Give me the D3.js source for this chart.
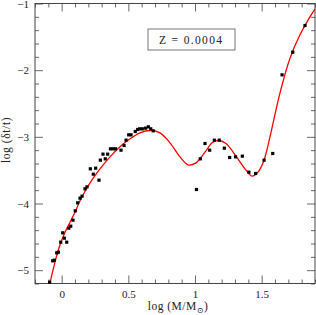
<!DOCTYPE html>
<html>
<head>
<meta charset="utf-8">
<script src="https://cdn.jsdelivr.net/npm/d3@7"></script>
<style>
  body { margin: 0; background: #fff; }
  svg { display: block; font-family: "Liberation Serif", "DejaVu Serif", serif; }
</style>
</head>
<body>
<svg id="chart" width="316" height="315"></svg>
<script>
// measured points: log M vs log (dt/t)
const pointX = [-0.09, -0.067, -0.055, -0.037, -0.025, -0.007, 0.008, 0.02, 0.038, 0.053, 0.068, 0.085,
    0.102, 0.12, 0.138, 0.153, 0.175, 0.19, 0.215, 0.237, 0.255, 0.28, 0.29, 0.31, 0.327, 0.345,
    0.366, 0.385, 0.404, 0.445, 0.468, 0.483, 0.503, 0.52, 0.552, 0.57, 0.585, 0.605, 0.63, 0.65,
    0.668, 0.687,
    1.011, 1.04, 1.075, 1.11, 1.145, 1.182, 1.22, 1.26, 1.304, 1.355, 1.404, 1.455, 1.518, 1.583,
    1.653, 1.733, 1.825];
const pointY = [-5.18, -4.86, -4.85, -4.74, -4.73, -4.58, -4.44, -4.52, -4.58, -4.37, -4.34, -4.25,
    -4.11, -3.99, -3.92, -3.89, -3.78, -3.75, -3.48, -3.56, -3.47, -3.65, -3.35, -3.26, -3.33, -3.26,
    -3.18, -3.18, -3.18, -3.2, -3.13, -3.05, -2.97, -2.97, -2.92, -2.89, -2.88, -2.88, -2.87, -2.85,
    -2.88, -2.91,
    -3.79, -3.33, -3.1, -3.2, -3.05, -3.05, -3.17, -3.31, -3.3, -3.29, -3.53, -3.55, -3.35, -3.25,
    -2.07, -1.73, -1.33];

// fitted curve
const curveX = [-0.0875, -0.05, -0.0125, 0.025, 0.0625, 0.1, 0.1375, 0.2125, 0.2875, 0.3625, 0.4375,
    0.5125, 0.5875, 0.6625, 0.7375, 0.8125, 0.8875, 0.9475, 1.0075, 1.075, 1.1275, 1.1725, 1.2325,
    1.3075, 1.3825, 1.4275, 1.4725, 1.5175, 1.5625, 1.6375, 1.7125, 1.7875, 1.8625, 1.9];
const curveY = [-5.19, -4.88, -4.62, -4.43, -4.28, -4.13, -3.96, -3.69, -3.48, -3.3, -3.15,
    -3.03, -2.94, -2.905, -2.94, -3.09, -3.3, -3.42, -3.39, -3.23, -3.09, -3.055, -3.1,
    -3.29, -3.5, -3.59, -3.53, -3.35, -3.0, -2.34, -1.82, -1.47, -1.2, -1.08];

const xMajor = [0, 0.5, 1, 1.5];
const yMajor = [-1, -2, -3, -4, -5];
const legendText = 'Z = 0.0004';

const svg = d3.select('#chart');
const margin = { top: 3.5, right: 1, bottom: 31.5, left: 35 };
const width = 316 - margin.left - margin.right;
const height = 315 - margin.top - margin.bottom;
const g = svg.append('g').attr('transform', 'translate(' + margin.left + ',' + margin.top + ')');

const xScale = d3.scaleLinear().domain([-0.2, 1.9]).range([0, width]);
const yScale = d3.scaleLinear().domain([-5.2, -1]).range([height, 0]);

const xMinor = d3.range(-2, 20).map(d => d / 10).filter(d => !xMajor.includes(d));
const yMinor = d3.range(-26, -4).map(d => d / 5).filter(d => !yMajor.includes(d));
const fmt = d => d3.format('~g')(d);

function tickStyle(sel) {
    sel.select('.domain').remove();
    sel.selectAll('.tick line').attr('stroke', '#444').attr('stroke-width', 0.8);
    sel.selectAll('.tick text').attr('font-size', 11).attr('fill', '#222')
        .attr('font-family', '"Liberation Serif", serif');
}

// bottom + left with labels
g.append('g').attr('transform', 'translate(0,' + height + ')')
    .call(d3.axisBottom(xScale).tickValues(xMajor).tickSize(-8).tickPadding(7).tickFormat(fmt)).call(tickStyle);
g.append('g').attr('transform', 'translate(0,' + height + ')')
    .call(d3.axisBottom(xScale).tickValues(xMinor).tickSize(-4).tickFormat('')).call(tickStyle);
g.append('g')
    .call(d3.axisLeft(yScale).tickValues(yMajor).tickSize(-8).tickPadding(6).tickFormat(fmt)).call(tickStyle);
g.append('g')
    .call(d3.axisLeft(yScale).tickValues(yMinor).tickSize(-4).tickFormat('')).call(tickStyle);

// top + right, ticks only
g.append('g').call(d3.axisTop(xScale).tickValues(xMajor).tickSize(-8).tickFormat('')).call(tickStyle);
g.append('g').call(d3.axisTop(xScale).tickValues(xMinor).tickSize(-4).tickFormat('')).call(tickStyle);
g.append('g').attr('transform', 'translate(' + width + ',0)')
    .call(d3.axisRight(yScale).tickValues(yMajor).tickSize(-8).tickFormat('')).call(tickStyle);
g.append('g').attr('transform', 'translate(' + width + ',0)')
    .call(d3.axisRight(yScale).tickValues(yMinor).tickSize(-4).tickFormat('')).call(tickStyle);

g.append('rect')
    .attr('x', 0).attr('y', 0).attr('width', width).attr('height', height)
    .attr('fill', 'none').attr('stroke', '#444').attr('stroke-width', 1);

// curve
const line = d3.line()
    .x((d, i) => xScale(curveX[i]))
    .y((d, i) => yScale(curveY[i]))
    .curve(d3.curveCatmullRom.alpha(0.5));
g.append('path')
    .datum(curveX)
    .attr('d', line)
    .attr('fill', 'none')
    .attr('stroke', '#ff0000')
    .attr('stroke-width', 1.3);

// points
g.selectAll('.pt').data(pointX).enter().append('rect')
    .attr('class', 'pt')
    .attr('x', (d, i) => xScale(pointX[i]) - 1.6)
    .attr('y', (d, i) => yScale(pointY[i]) - 1.6)
    .attr('width', 3.2).attr('height', 3.2)
    .attr('fill', '#000');

// legend box
g.append('rect')
    .attr('x', 113).attr('y', 25.5).attr('width', 87).attr('height', 21)
    .attr('fill', '#fff').attr('stroke', '#777').attr('stroke-width', 1);
g.append('text')
    .attr('x', 124).attr('y', 40)
    .attr('font-size', 11.5).attr('fill', '#222')
    .attr('textLength', 63).attr('lengthAdjust', 'spacing')
    .text(legendText);

// axis titles
const xt = svg.append('text')
    .attr('x', 178).attr('y', 310)
    .attr('text-anchor', 'middle')
    .attr('letter-spacing', 0.5)
    .attr('font-size', 11.5).attr('fill', '#222');
xt.append('tspan').text('log (M/M');
xt.append('tspan').attr('font-size', 8).attr('dy', 2.5).text('\u2299');
xt.append('tspan').attr('dy', -2.5).text(')');

svg.append('text')
    .attr('transform', 'translate(10,140) rotate(-90)')
    .attr('text-anchor', 'middle')
    .attr('letter-spacing', 0.6)
    .attr('font-size', 11.5).attr('fill', '#222')
    .text('log (\u03b4t/t)');
</script>
</body>
</html>
